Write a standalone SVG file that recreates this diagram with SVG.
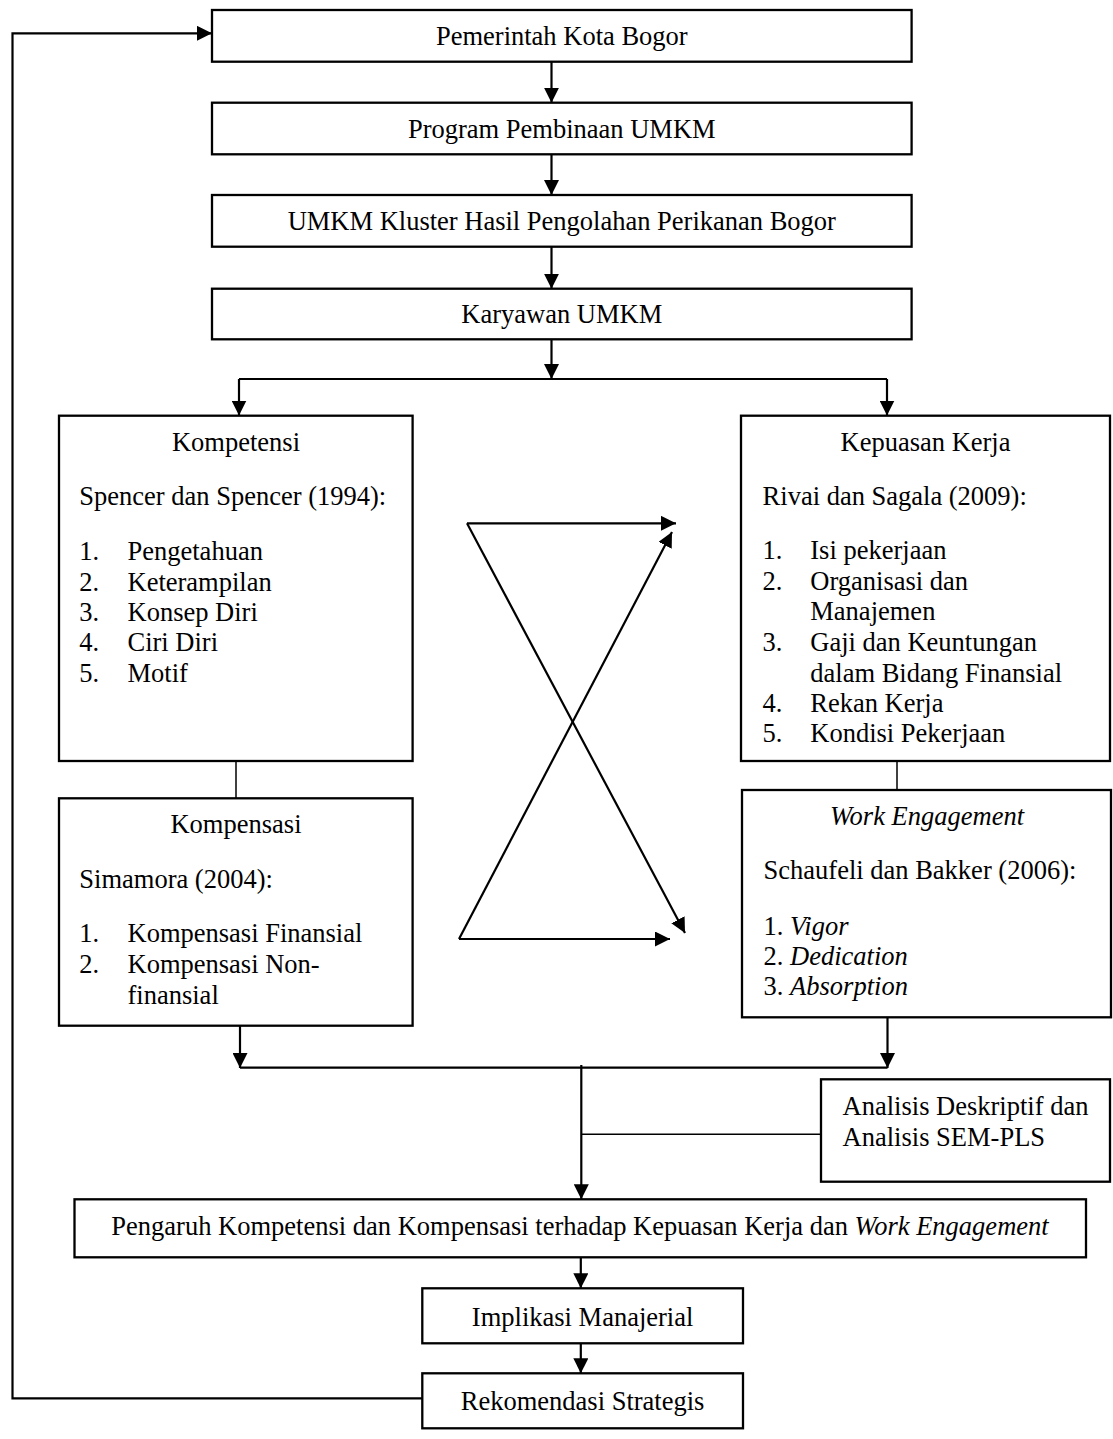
<svg xmlns="http://www.w3.org/2000/svg" width="1113" height="1439" viewBox="0 0 1113 1439">
<style>
  .box{fill:#fff;stroke:#000;stroke-width:2.3}
  .t{font-family:"Liberation Serif","Times New Roman",serif;font-size:26.5px;fill:#000}
  .c{text-anchor:middle}
  .i{font-style:italic}
  .ln{fill:none;stroke:#000;stroke-width:2.2}
  .thin{fill:none;stroke:#000;stroke-width:1.5}
</style>
<defs>
  <marker id="ah" markerUnits="userSpaceOnUse" markerWidth="15" markerHeight="15" refX="15" refY="7.5" orient="auto">
    <path d="M0,0 L15,7.5 L0,15 z" fill="#000"/>
  </marker>
</defs>
<rect width="1113" height="1439" fill="#fff"/>

<g id="connectors">
  <path class="ln" d="M551.5,62 V102.7" marker-end="url(#ah)"/>
  <path class="ln" d="M551.5,154.3 V195" marker-end="url(#ah)"/>
  <path class="ln" d="M551.5,246.7 V288.7" marker-end="url(#ah)"/>
  <path class="ln" d="M551.5,339.3 V379" marker-end="url(#ah)"/>
  <path class="ln" d="M239,379 H887"/>
  <path class="ln" d="M239,379 V415.5" marker-end="url(#ah)"/>
  <path class="ln" d="M887,379 V415.5" marker-end="url(#ah)"/>
  <path class="thin" d="M236,761 V798.3"/>
  <path class="thin" d="M897,761 V790"/>
  <path class="ln" d="M467,523.3 H676" marker-end="url(#ah)"/>
  <path class="ln" d="M467,523.3 L685,933" marker-end="url(#ah)"/>
  <path class="ln" d="M459,939 L672,532" marker-end="url(#ah)"/>
  <path class="ln" d="M459,939 H670" marker-end="url(#ah)"/>
  <path class="ln" d="M240,1025.7 V1068" marker-end="url(#ah)"/>
  <path class="ln" d="M887.5,1017.3 V1068" marker-end="url(#ah)"/>
  <path class="ln" d="M240,1067.7 H887.5"/>
  <path class="ln" d="M581.3,1065 V1199.3" marker-end="url(#ah)"/>
  <path class="thin" d="M581.3,1134.3 H821"/>
  <path class="ln" d="M580.8,1257.5 V1288.3" marker-end="url(#ah)"/>
  <path class="ln" d="M580.8,1343.3 V1373.3" marker-end="url(#ah)"/>
  <path class="ln" d="M422.3,1398.3 H12.5 V33.3 H212" marker-end="url(#ah)"/>
</g>

<g id="pemerintah">
  <rect class="box" x="212" y="10" width="699.6" height="51.7"/>
  <text class="t c" x="561.8" y="45">Pemerintah Kota Bogor</text>
</g>
<g id="program">
  <rect class="box" x="212" y="102.7" width="699.6" height="51.6"/>
  <text class="t c" x="561.8" y="137.5">Program Pembinaan UMKM</text>
</g>
<g id="kluster">
  <rect class="box" x="212" y="195" width="699.6" height="51.7"/>
  <text class="t c" x="561.8" y="230">UMKM Kluster Hasil Pengolahan Perikanan Bogor</text>
</g>
<g id="karyawan">
  <rect class="box" x="212" y="288.7" width="699.6" height="50.6"/>
  <text class="t c" x="561.8" y="323.3">Karyawan UMKM</text>
</g>

<g id="kompetensi">
  <rect class="box" x="59" y="415.7" width="353.6" height="345.3"/>
  <text class="t c" x="236" y="451">Kompetensi</text>
  <text class="t" x="79.3" y="505">Spencer dan Spencer (1994):</text>
  <text class="t" x="79.3" y="560">1.</text><text class="t" x="127.5" y="560">Pengetahuan</text>
  <text class="t" x="79.3" y="591">2.</text><text class="t" x="127.5" y="591">Keterampilan</text>
  <text class="t" x="79.3" y="621">3.</text><text class="t" x="127.5" y="621">Konsep Diri</text>
  <text class="t" x="79.3" y="651">4.</text><text class="t" x="127.5" y="651">Ciri Diri</text>
  <text class="t" x="79.3" y="682">5.</text><text class="t" x="127.5" y="682">Motif</text>
</g>

<g id="kompensasi">
  <rect class="box" x="59" y="798.3" width="353.6" height="227.4"/>
  <text class="t c" x="236" y="833">Kompensasi</text>
  <text class="t" x="79.3" y="888">Simamora (2004):</text>
  <text class="t" x="79.3" y="942">1.</text><text class="t" x="127.5" y="942">Kompensasi Finansial</text>
  <text class="t" x="79.3" y="973">2.</text><text class="t" x="127.5" y="973">Kompensasi Non-</text>
  <text class="t" x="127.5" y="1004">finansial</text>
</g>

<g id="kepuasan">
  <rect class="box" x="741" y="415.7" width="369" height="345.3"/>
  <text class="t c" x="925.5" y="451">Kepuasan Kerja</text>
  <text class="t" x="762.6" y="505">Rivai dan Sagala (2009):</text>
  <text class="t" x="762.6" y="559">1.</text><text class="t" x="810.3" y="559">Isi pekerjaan</text>
  <text class="t" x="762.6" y="590">2.</text><text class="t" x="810.3" y="590">Organisasi dan</text>
  <text class="t" x="810.3" y="620">Manajemen</text>
  <text class="t" x="762.6" y="651">3.</text><text class="t" x="810.3" y="651">Gaji dan Keuntungan</text>
  <text class="t" x="810.3" y="682">dalam Bidang Finansial</text>
  <text class="t" x="762.6" y="712">4.</text><text class="t" x="810.3" y="712">Rekan Kerja</text>
  <text class="t" x="762.6" y="742">5.</text><text class="t" x="810.3" y="742">Kondisi Pekerjaan</text>
</g>

<g id="work-engagement">
  <rect class="box" x="742" y="790" width="369" height="227.3"/>
  <text class="t c i" x="927" y="825">Work Engagement</text>
  <text class="t" x="763.6" y="879">Schaufeli dan Bakker (2006):</text>
  <text class="t" x="763.6" y="935">1. <tspan class="i">Vigor</tspan></text>
  <text class="t" x="763.6" y="965">2. <tspan class="i">Dedication</tspan></text>
  <text class="t" x="763.6" y="995">3. <tspan class="i">Absorption</tspan></text>
</g>

<g id="analisis">
  <rect class="box" x="821" y="1079.3" width="289" height="102.4"/>
  <text class="t" x="842.6" y="1115">Analisis Deskriptif dan</text>
  <text class="t" x="842.6" y="1146">Analisis SEM-PLS</text>
</g>

<g id="pengaruh">
  <rect class="box" x="74.5" y="1199.3" width="1011.5" height="58"/>
  <text class="t c" x="580" y="1234.5">Pengaruh Kompetensi dan Kompensasi terhadap Kepuasan Kerja dan <tspan class="i">Work Engagement</tspan></text>
</g>

<g id="implikasi">
  <rect class="box" x="422.3" y="1288.3" width="320.7" height="55"/>
  <text class="t c" x="582.6" y="1325.5">Implikasi Manajerial</text>
</g>

<g id="rekomendasi">
  <rect class="box" x="422.3" y="1373.3" width="320.7" height="55"/>
  <text class="t c" x="582.6" y="1410">Rekomendasi Strategis</text>
</g>
</svg>
